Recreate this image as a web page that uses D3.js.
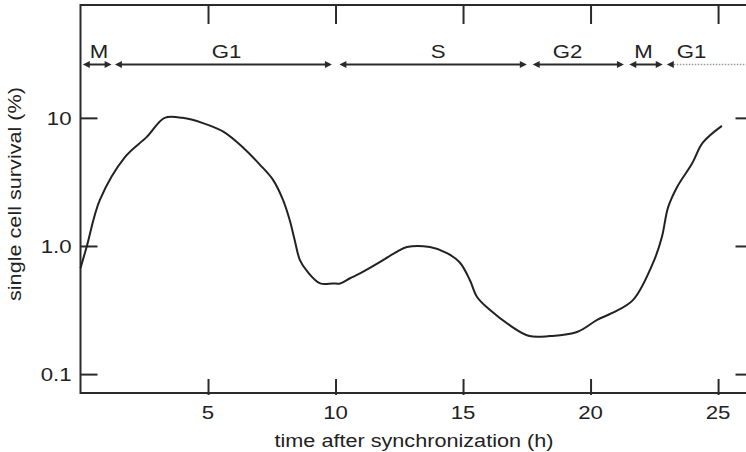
<!DOCTYPE html>
<html>
<head>
<meta charset="utf-8">
<script src="https://cdn.jsdelivr.net/npm/d3@7"></script>
<style>
  html, body { margin: 0; padding: 0; background: #fff; }
  svg { display: block; }
  text { font-family: "Liberation Sans", Arial, Helvetica, sans-serif; fill: #222; }
</style>
</head>
<body>
<svg id="chart" width="746" height="452"></svg>
<script>
// ---- data ----
const timeH = [0, 0.25, 0.76, 1.75, 2.6, 3.3, 4.0, 4.8, 5.6, 6.4, 7.04, 7.55, 7.94, 8.2, 8.4, 8.6, 8.9, 9.4, 9.9,
  10.18, 10.57, 10.96, 11.75, 12.4, 12.8, 13.7, 14.37, 14.88, 15.27, 15.55, 16.06, 16.84, 17.6, 18.4, 19.47, 20.26,
  20.85, 21.67, 22.5, 22.8, 23.04, 23.4, 23.98, 24.4, 25.15];
const survival = [0.67, 1.0, 2.29, 4.96, 7.1, 10, 10, 9.1, 7.8, 5.8, 4.3, 3.28, 2.29, 1.6, 1.11, 0.78, 0.63, 0.51, 0.51,
  0.51, 0.56, 0.61, 0.75, 0.90, 0.98, 0.98, 0.88, 0.74, 0.54, 0.40, 0.316, 0.24, 0.198, 0.198, 0.213, 0.265,
  0.30, 0.38, 0.78, 1.18, 2.0, 2.9, 4.4, 6.4, 8.66];
const xTicks = [5, 10, 15, 20, 25];
const yTicks = [10, 1, 0.1];
const yTickLabels = ["10", "1.0", "0.1"];
const phaseNames = ["M", "G1", "S", "G2", "M", "G1"];
const phaseStart = [0.09, 1.35, 10.15, 17.73, 21.52, 22.99];
const phaseEnd = [1.22, 9.86, 17.5, 21.31, 22.83, 26.4];
const phaseLabelAt = [0.73, 5.73, 14.02, 19.1, 22.08, 23.96];
const phaseOpenEnded = [false, false, false, false, false, true];
const xTitle = "time after synchronization (h)";
const yTitle = "single cell survival (%)";

// ---- layout ----
const svg = d3.select("#chart");
const L = 80.5, R = 752.5, T = 5, B = 393;
const x = d3.scaleLinear().domain([0, 26.35]).range([L, R]);
const y = d3.scaleLog().domain([0.0712, 76]).range([B, T]);
const ink = "#2a2a2a";
const SX = 1.17; // horizontal stretch of the original lettering

function label(g, tx, ty, str, anchor, size, rot) {
  return g.append("text")
    .attr("transform", `translate(${tx},${ty}) rotate(${rot || 0}) scale(${SX},1)`)
    .attr("text-anchor", anchor)
    .style("font-size", size + "px")
    .text(str);
}

// frame
svg.append("path")
  .attr("d", `M${R},${T}H${L}V${B}H${R}`)
  .attr("fill", "none").attr("stroke", ink).attr("stroke-width", 2);

// bottom axis ticks
const xa = d3.axisBottom(x).tickValues(xTicks).tickSize(-14).tickFormat("");
const gx = svg.append("g").attr("transform", `translate(0,${B + 2})`).call(xa);
gx.select(".domain").remove();
gx.selectAll(".tick line").attr("stroke", ink).attr("stroke-width", 2).attr("y1", 0).attr("y2", -16);
xTicks.forEach(v => label(svg, x(v), 418.5, String(v), "middle", 19));

// top axis ticks
const xt = d3.axisTop(x).tickValues(xTicks).tickSize(-19).tickFormat("");
const gt = svg.append("g").attr("transform", `translate(0,${T})`).call(xt);
gt.select(".domain").remove();
gt.selectAll(".tick line").attr("stroke", ink).attr("stroke-width", 2);

// left axis ticks
const ya = d3.axisLeft(y).tickValues(yTicks).tickSize(-17).tickFormat("");
const gy = svg.append("g").attr("transform", `translate(${L},0)`).call(ya);
gy.select(".domain").remove();
gy.selectAll(".tick line").attr("stroke", ink).attr("stroke-width", 2);
yTicks.forEach((v, i) => label(svg, 71.5, y(v) + 6.8, yTickLabels[i], "end", 19));

// right axis ticks
const yr = d3.axisRight(y).tickValues(yTicks).tickSize(-17).tickFormat("");
const gr = svg.append("g").attr("transform", `translate(${R},0)`).call(yr);
gr.select(".domain").remove();
gr.selectAll(".tick line").attr("stroke", ink).attr("stroke-width", 2);

// axis titles
label(svg, 414, 447, xTitle, "middle", 18.5);
label(svg, 21, 194, yTitle, "middle", 18.5, -90);

// survival curve
const line = d3.line().x((d, i) => x(timeH[i])).y(d => y(d)).curve(d3.curveCatmullRom.alpha(0.5));
svg.append("path").datum(survival)
  .attr("d", line)
  .attr("fill", "none").attr("stroke", "#222").attr("stroke-width", 2);

// cell-cycle phase arrows
const ay = 64.5, ah = 7, aw = 3.6;
const pg = svg.append("g");
phaseNames.forEach((name, i) => {
  const x0 = x(phaseStart[i]), x1 = x(phaseEnd[i]);
  if (phaseOpenEnded[i]) {
    pg.append("line").attr("x1", x0 + ah).attr("x2", x1).attr("y1", ay).attr("y2", ay)
      .attr("stroke", "#9a9a9a").attr("stroke-width", 1.6).attr("stroke-dasharray", "1.5,1.5");
    pg.append("path").attr("d", `M${x0},${ay}L${x0 + ah},${ay - aw}L${x0 + ah},${ay + aw}Z`).attr("fill", ink);
  } else {
    pg.append("line").attr("x1", x0 + ah - 1).attr("x2", x1 - ah + 1).attr("y1", ay).attr("y2", ay)
      .attr("stroke", ink).attr("stroke-width", 2);
    pg.append("path").attr("d", `M${x0},${ay}L${x0 + ah},${ay - aw}L${x0 + ah},${ay + aw}Z`).attr("fill", ink);
    pg.append("path").attr("d", `M${x1},${ay}L${x1 - ah},${ay - aw}L${x1 - ah},${ay + aw}Z`).attr("fill", ink);
  }
  label(pg, x(phaseLabelAt[i]), 57.5, name, "middle", 19);
});
</script>
</body>
</html>
